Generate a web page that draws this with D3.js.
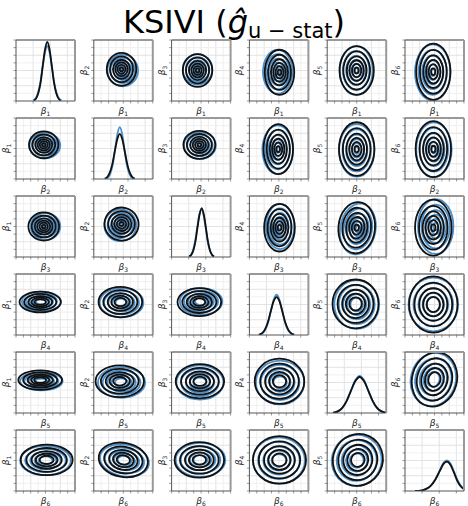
<!DOCTYPE html>
<html>
<head>
<meta charset="utf-8">
<script src="https://cdn.jsdelivr.net/npm/d3@7"></script>
<style>
body { margin: 0; background: #fff; }
text { font-family: "DejaVu Sans", sans-serif; }
</style>
</head>
<body>
<svg id="chart" width="468" height="506"></svg>
<script>
/** parameter indices shown as subscripts */
var paramIdx = ['1', '2', '3', '4', '5', '6'];

/** diagonal marginal densities, x in normalised axis units, y as fraction of axis height */
var diagBlackX = [
  [.305,.343,.38,.418,.455,.493,.53,.568,.605,.643,.68,.718,.755],
  [.185,.228,.27,.313,.355,.398,.44,.483,.525,.568,.61,.653,.695],
  [.30,.335,.37,.405,.44,.475,.51,.545,.58,.615,.65,.685,.72],
  [.16,.21,.26,.31,.36,.41,.46,.51,.56,.61,.66,.71,.76],
  [.10,.175,.25,.325,.40,.475,.55,.625,.70,.775,.85,.925,1.0],
  [.17,.27,.35,.43,.51,.59,.65,.71,.77,.83,.89,.95,1.0]
];
var diagBlackY = [
  [.011,.043,.136,.31,.59,.85,.97,.85,.59,.31,.136,.043,.011],
  [.008,.033,.104,.24,.45,.65,.74,.65,.45,.24,.104,.033,.008],
  [.009,.035,.11,.26,.49,.70,.80,.70,.49,.26,.11,.035,.009],
  [.007,.027,.084,.2,.38,.55,.62,.55,.38,.2,.084,.027,.007],
  [.006,.026,.08,.19,.36,.52,.59,.52,.36,.19,.08,.026,.006],
  [0,.006,.03,.08,.18,.33,.44,.48,.43,.3,.16,.07,.03]
];
var diagBlueX = [
  [.29,.33,.37,.41,.45,.49,.53,.57,.61,.65,.69,.73,.77],
  [.215,.253,.29,.328,.365,.403,.44,.478,.515,.553,.59,.628,.665],
  [.289,.325,.361,.397,.433,.469,.505,.541,.577,.613,.649,.685,.721],
  [.175,.223,.27,.318,.365,.413,.46,.508,.555,.603,.65,.698,.745],
  [.115,.188,.26,.333,.405,.478,.55,.623,.695,.768,.84,.913,.985],
  [.17,.27,.35,.43,.51,.59,.65,.71,.77,.83,.89,.95,1.0]
];
var diagBlueY = [
  [.01,.04,.126,.29,.55,.79,.9,.79,.55,.29,.126,.04,.01],
  [.009,.037,.119,.27,.52,.75,.85,.75,.52,.27,.119,.037,.009],
  [.009,.034,.107,.25,.48,.69,.78,.69,.48,.25,.107,.034,.009],
  [.007,.029,.09,.21,.40,.58,.66,.58,.40,.21,.09,.029,.007],
  [.007,.027,.083,.2,.37,.54,.61,.54,.37,.2,.083,.027,.007],
  [0,.006,.03,.08,.18,.34,.46,.50,.45,.32,.18,.08,.04]
];

/** off-diagonal KDE contour fits [row][col]: [centreX, centreY, outerRadiusX, outerRadiusY, tiltDeg] */
var blackFit = [
  [null, [.47,.52,.25,.27,0], [.44,.50,.25,.27,0], [.51,.47,.25,.37,0], [.50,.50,.29,.40,0], [.48,.48,.29,.46,0]],
  [[.47,.56,.25,.22,0], null, [.47,.56,.27,.23,0], [.49,.49,.25,.41,0], [.50,.49,.30,.44,0], [.48,.49,.30,.46,0]],
  [[.47,.50,.26,.23,0], [.47,.54,.29,.27,-15], null, [.51,.48,.26,.39,0], [.50,.48,.31,.42,-5], [.48,.48,.31,.46,0]],
  [[.41,.54,.35,.17,0], [.45,.54,.37,.25,0], [.47,.54,.37,.23,0], null, [.48,.51,.39,.40,0], [.48,.50,.41,.46,0]],
  [[.41,.54,.37,.16,0], [.44,.52,.41,.26,0], [.48,.52,.41,.28,0], [.51,.52,.42,.37,0], null, [.50,.55,.38,.45,-15]],
  [[.52,.51,.44,.25,0], [.50,.51,.42,.28,-10], [.47,.51,.42,.29,0], [.51,.51,.45,.39,0], [.52,.51,.42,.43,-25], null]
];
var blueFit = [
  [null, [.49,.50,.26,.26,0], [.44,.52,.25,.25,0], [.48,.48,.25,.36,0], [.49,.50,.28,.40,0], [.47,.47,.30,.46,0]],
  [[.49,.55,.26,.21,0], null, [.48,.55,.27,.22,0], [.48,.48,.26,.40,0], [.50,.47,.30,.43,0], [.49,.48,.30,.45,0]],
  [[.50,.50,.25,.22,0], [.45,.52,.27,.26,-15], null, [.52,.50,.24,.37,0], [.52,.46,.30,.42,-10], [.52,.50,.30,.45,0]],
  [[.43,.55,.33,.16,0], [.47,.53,.37,.24,0], [.50,.55,.36,.22,0], null, [.50,.50,.38,.40,0], [.48,.50,.42,.44,0]],
  [[.43,.52,.36,.15,0], [.47,.50,.40,.25,0], [.48,.50,.40,.28,0], [.52,.50,.41,.36,0], null, [.48,.55,.38,.44,-15]],
  [[.50,.50,.43,.24,0], [.52,.50,.42,.26,-10], [.49,.51,.42,.28,0], [.50,.50,.44,.38,0], [.50,.50,.42,.42,-25], null]
];

/** relative size of each contour ring, and how many rings show in each row */
var blackLevels = [1, .78, .58, .42, .27, .12];
var blueLevels = [1, .8, .6, .43, .28, .13];
var ringsPerRow = [6, 6, 6, 5, 5, 5];

var blueColor = '#4a8fca',
    blackColor = '#111';

var panelW = 59,
    panelH = 61;

var colScale = d3.scaleLinear().domain([0, 5]).range([16, 405]);
var rowScale = d3.scaleLinear().domain([0, 5]).range([40, 430]);

var svg = d3.select('#chart');

// title
var title = svg.append('text')
    .attr('x', 234)
    .attr('y', 33)
    .attr('text-anchor', 'middle')
    .attr('font-size', 32)
    .attr('fill', '#000');
title.append('tspan').text('KSIVI (');
title.append('tspan').attr('font-style', 'italic').text('ĝ');
title.append('tspan').attr('font-size', 21).attr('dy', 5).text('u − stat');
title.append('tspan').attr('dy', -5).text(')');

var defs = svg.append('defs');

function betaLabel(sel, idx) {
    sel.append('tspan').attr('font-style', 'italic').text('β');
    sel.append('tspan').attr('font-size', 6).attr('dy', 2).text(idx);
}

for (var r = 0; r < 6; r++) {
    for (var c = 0; c < 6; c++) {
        drawPanel(r, c);
    }
}

function drawPanel(r, c) {
    var px = colScale(c),
        py = rowScale(r);
    var g = svg.append('g').attr('transform', 'translate(' + px + ',' + py + ')');
    var clipId = 'clip' + r + c;
    defs.append('clipPath').attr('id', clipId)
        .append('rect').attr('width', panelW).attr('height', panelH);

    var x = d3.scaleLinear().domain([0, 1]).range([0, panelW]);
    var y = d3.scaleLinear().domain([0, 1]).range([panelH, 0]);
    var isDiag = r === c;

    var xTicks = isDiag ? [0, .29, .58, .87] : d3.range(0, 1.001, .125);
    var yTicks = d3.range(0, 1.001, .125);

    // grid
    g.append('g').selectAll('line').data(xTicks.filter(function (d) { return d > 0 && d < 1; }))
        .enter().append('line')
        .attr('x1', function (d) { return x(d); }).attr('x2', function (d) { return x(d); })
        .attr('y1', 0).attr('y2', panelH)
        .attr('stroke', function (d, i) { return (isDiag || i % 2 === 1) ? '#dcdcdc' : '#ececec'; })
        .attr('stroke-width', 0.8);
    g.append('g').selectAll('line').data(yTicks.filter(function (d) { return d > 0 && d < 1; }))
        .enter().append('line')
        .attr('x1', 0).attr('x2', panelW)
        .attr('y1', function (d) { return y(d); }).attr('y2', function (d) { return y(d); })
        .attr('stroke', function (d, i) { return i % 2 === 1 ? '#dcdcdc' : '#ececec'; })
        .attr('stroke-width', 0.8);

    var plot = g.append('g').attr('clip-path', 'url(#' + clipId + ')');

    if (isDiag) {
        var line = d3.line()
            .x(function (d) { return x(d[0]); })
            .y(function (d) { return y(d[1]); })
            .curve(d3.curveMonotoneX);
        plot.append('path')
            .datum(d3.zip(diagBlueX[r], diagBlueY[r]))
            .attr('d', line)
            .attr('fill', 'none').attr('stroke', blueColor).attr('stroke-width', 1.8);
        plot.append('path')
            .datum(d3.zip(diagBlackX[r], diagBlackY[r]))
            .attr('d', line)
            .attr('fill', 'none').attr('stroke', blackColor).attr('stroke-width', 1.8);
    } else {
        var n = ringsPerRow[r];
        drawRings(plot, blueFit[r][c], blueLevels.slice(0, n), blueColor, x, y);
        drawRings(plot, blackFit[r][c], blackLevels.slice(0, n), blackColor, x, y);
    }

    // ticks
    g.append('g').selectAll('line').data(xTicks).enter().append('line')
        .attr('x1', function (d) { return x(d); }).attr('x2', function (d) { return x(d); })
        .attr('y1', panelH).attr('y2', panelH + 2.5)
        .attr('stroke', '#555').attr('stroke-width', 0.6);
    g.append('g').selectAll('line').data(yTicks).enter().append('line')
        .attr('x1', -2.5).attr('x2', 0)
        .attr('y1', function (d) { return y(d); }).attr('y2', function (d) { return y(d); })
        .attr('stroke', '#555').attr('stroke-width', 0.6);

    // spines
    g.append('line').attr('x1', 0).attr('x2', panelW).attr('y1', 0).attr('y2', 0)
        .attr('stroke', '#999').attr('stroke-width', 2);
    g.append('line').attr('x1', panelW).attr('x2', panelW).attr('y1', 0).attr('y2', panelH)
        .attr('stroke', '#999').attr('stroke-width', 2);
    g.append('line').attr('x1', 0).attr('x2', 0).attr('y1', 0).attr('y2', panelH)
        .attr('stroke', '#555').attr('stroke-width', 1);
    g.append('line').attr('x1', 0).attr('x2', panelW).attr('y1', panelH).attr('y2', panelH)
        .attr('stroke', '#555').attr('stroke-width', 1);

    // labels
    g.append('text')
        .attr('x', panelW / 2).attr('y', panelH + 13)
        .attr('text-anchor', 'middle').attr('font-size', 9).attr('fill', '#222')
        .call(betaLabel, paramIdx[r]);
    if (!isDiag) {
        g.append('text')
            .attr('transform', 'translate(-7,' + (panelH / 2) + ') rotate(-90)')
            .attr('text-anchor', 'middle').attr('font-size', 9).attr('fill', '#222')
            .call(betaLabel, paramIdx[c]);
    }
}

function drawRings(sel, fit, levels, color, x, y) {
    var cx = x(fit[0]), cy = y(fit[1]);
    sel.append('g').selectAll('ellipse').data(levels).enter().append('ellipse')
        .attr('cx', cx).attr('cy', cy)
        .attr('rx', function (l) { return x(fit[0] + fit[2] * l) - cx; })
        .attr('ry', function (l) { return cy - y(fit[1] + fit[3] * l); })
        .attr('transform', 'rotate(' + (-fit[4]) + ',' + cx + ',' + cy + ')')
        .attr('fill', 'none')
        .attr('stroke', color)
        .attr('stroke-width', 1.8);
}
</script>
</body>
</html>
